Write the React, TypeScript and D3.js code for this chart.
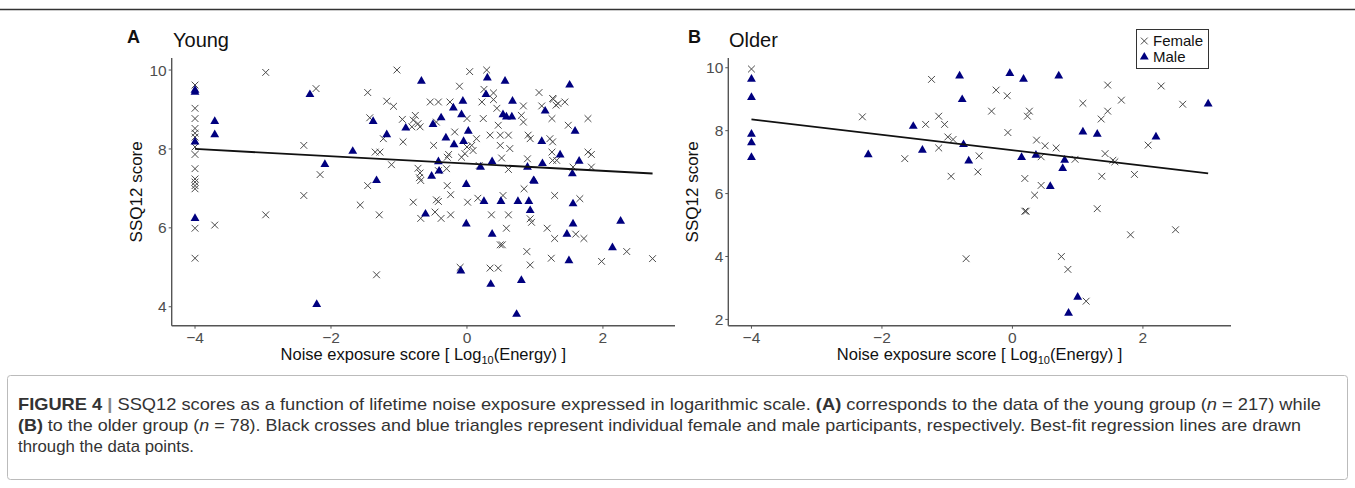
import React from "react";
import * as d3 from "d3";

// ---------- DATA ----------
// Panel A (Young) — [noise exposure score, SSQ12 score]
const youngFemale: [number, number][] = [
  [-4, 9.62], [-4, 9.03], [-4, 8.77], [-4, 8.52], [-4, 8.4], [-4, 8.3], [-4, 8.05], [-4, 7.86], [-4, 7.5],
  [-4, 7.24], [-4, 7.16], [-4, 7.07], [-4, 6.99], [-4, 5.99], [-4, 5.23],
  [-3.71, 6.07], [-2.96, 9.94], [-2.96, 6.33], [-2.22, 9.53], [-2.4, 8.09], [-2.16, 7.35], [-2.4, 6.82],
  [-1.03, 10.0], [-1.46, 9.43], [-1.18, 9.21], [-1.08, 9.08], [-1.43, 8.79], [-1.23, 8.26], [-1.35, 7.92],
  [-1.28, 7.92], [-1.11, 7.6], [-0.95, 8.75], [-0.94, 8.18], [-0.76, 8.85], [-0.79, 8.73], [-0.81, 8.56],
  [-0.69, 8.56], [-0.72, 8.64], [-0.54, 9.19], [-0.42, 9.19], [-0.25, 9.19], [-0.45, 8.68], [0, 8.77],
  [-0.11, 9.59], [0.04, 9.96], [0.29, 10.0], [0.25, 9.51], [0.39, 9.42], [0.39, 9.25], [0.24, 8.77],
  [0.22, 9.19], [0.44, 9.03], [0.8, 8.85], [0.83, 8.68], [0.83, 9.09], [1.06, 9.43], [1.1, 9.09],
  [1.26, 9.28], [1.31, 9.11], [1.25, 8.77], [-0.18, 8.43], [-0.49, 8.09], [0, 8.05], [0.07, 8.09],
  [0.14, 8.26], [0.09, 7.96], [-0.03, 7.88], [-0.08, 7.79], [0.34, 8.35], [0.46, 8.6], [0.49, 8.35],
  [0.61, 8.35], [0.49, 8.09], [0.63, 8.01], [0.9, 8.35], [0.93, 8.26], [1.22, 8.26], [1.26, 8.18],
  [-0.29, 7.79], [-0.27, 7.86], [-0.42, 7.45], [-0.72, 7.51], [-0.69, 7.39], [-0.3, 7.5], [0.18, 7.58],
  [0.51, 7.77], [0.61, 7.48], [0.89, 7.75], [1.25, 7.92], [1.26, 7.71],
  [-1.46, 7.07], [-1.57, 6.58], [-1.29, 6.33], [-1.33, 4.81], [-0.79, 6.65], [-0.7, 7.27], [-0.68, 7.2],
  [-0.45, 6.71], [-0.42, 6.67], [-0.29, 7.07], [-0.24, 6.84], [-0.68, 6.24], [-0.47, 6.4], [-0.38, 6.24],
  [-0.24, 6.33], [0.01, 6.65], [0.16, 6.75], [0.53, 6.82], [0.84, 6.99], [0.93, 6.23], [0.95, 6.14],
  [1.29, 6.82], [0.36, 6.33], [0.61, 6.33], [0.58, 5.99], [0.49, 5.57], [0.52, 5.57], [0.88, 5.4],
  [0.93, 5.06], [1.18, 5.99], [1.29, 5.73], [1.24, 5.23], [-0.1, 5.0], [0.34, 4.98], [0.46, 4.98],
  [1.27, 9.26], [1.34, 9.15], [1.44, 9.19], [1.49, 8.6], [1.78, 8.77], [1.32, 7.71], [1.78, 7.92],
  [1.83, 7.86], [1.83, 7.54], [1.56, 7.54], [1.66, 6.74], [1.6, 5.84], [1.72, 5.73], [1.98, 5.15],
  [2.35, 5.4], [2.73, 5.22],
];
const youngMale: [number, number][] = [
  [-4, 9.49], [-4, 9.44], [-4, 8.18], [-4, 6.24],
  [-3.71, 8.7], [-3.71, 8.36], [-2.31, 9.38], [-2.09, 7.61], [-2.21, 4.06], [-1.68, 7.94], [-0.67, 9.72],
  [-1.38, 8.7], [-1.18, 8.36], [-0.9, 8.53], [-0.2, 9.04], [-0.06, 9.21], [-0.38, 8.79], [-0.5, 8.62],
  [-0.08, 8.87], [0.3, 9.8], [0.56, 9.72], [0.28, 9.38], [0.67, 9.21], [0.53, 8.87], [0.58, 8.81],
  [0.66, 8.81], [1.15, 8.96], [0.02, 8.45], [-0.31, 8.28], [-0.19, 8.11], [-0.05, 8.19], [1.1, 8.19],
  [-0.42, 7.68], [-0.41, 7.44], [-0.52, 7.31], [0.2, 7.54], [0.37, 7.68], [0.89, 7.54], [1.11, 7.63],
  [1.37, 7.85], [-1.33, 7.2], [0.98, 7.2], [-0.61, 6.35], [-0.01, 7.1], [0.25, 6.67], [0.5, 6.67],
  [0.75, 6.67], [0.91, 6.67], [0.99, 7.18], [0.93, 6.44], [-0.01, 6.1], [0.37, 5.84], [-0.09, 4.91],
  [0.35, 4.57], [0.8, 4.67], [0.73, 3.81], [1.51, 9.62], [1.59, 8.45], [1.65, 7.69], [1.55, 7.37],
  [1.56, 6.61], [1.56, 6.1], [2.26, 6.17], [1.47, 5.84], [1.5, 5.17], [2.14, 5.5],
];
// Panel B (Older)
const olderFemale: [number, number][] = [
  [-4, 9.96], [-2.3, 8.44], [-1.65, 7.11], [-1.24, 9.63], [-0.25, 9.29], [-0.08, 9.11], [-0.32, 8.62],
  [0.26, 8.62], [0.23, 8.46], [1.46, 9.45], [1.67, 8.97], [1.08, 8.87], [1.46, 8.62], [1.36, 8.37],
  [-1.33, 8.2], [-1.13, 8.46], [-1.04, 8.2], [-0.99, 7.8], [-0.91, 7.72], [-1.13, 7.45], [-0.51, 7.2],
  [-0.94, 6.55], [-0.53, 6.69], [-0.07, 7.94], [0.37, 7.7], [0.5, 7.52], [0.67, 7.45], [0.44, 7.17],
  [0.96, 7.09], [1.42, 7.27], [1.54, 7.06], [1.57, 7.01], [1.87, 6.61], [2.08, 7.54], [0.19, 6.48],
  [1.37, 6.55], [0.44, 6.26], [0.34, 5.95], [0.19, 5.44], [0.21, 5.44], [1.3, 5.52], [1.81, 4.69],
  [-0.71, 3.93], [0.75, 4.0], [0.85, 3.59], [1.13, 2.58], [2.28, 9.42], [2.61, 8.84], [2.5, 4.85],
];
const olderMale: [number, number][] = [
  [-4, 9.64], [-4, 9.06], [-4, 7.89], [-4, 7.62], [-4, 7.15], [-2.21, 7.24], [-0.81, 9.74], [-0.77, 8.99],
  [-0.04, 9.82], [0.17, 9.64], [0.71, 9.74], [-1.52, 8.14], [-1.38, 7.38], [-0.75, 7.56], [-0.67, 7.04],
  [0.14, 7.15], [0.36, 7.22], [0.8, 7.06], [0.77, 6.8], [1.08, 7.96], [1.3, 7.89], [0.58, 6.23],
  [1.0, 2.71], [0.86, 2.2], [2.2, 7.8], [3.0, 8.85],
];
// Regression lines: [intercept, slope]
const fitYoung: [number, number] = [7.63, -0.0923];
const fitOlder: [number, number] = [7.377, -0.246];

const xTicks = [-4, -2, 0, 2];
const yTicksA = [4, 6, 8, 10];
const yTicksB = [2, 4, 6, 8, 10];
const legendLabels = ["Female", "Male"];

const captionLines = [
  [
    { t: "FIGURE 4 ", b: true },
    { t: "| ", b: true, c: "#888" },
    { t: "SSQ12 scores as a function of lifetime noise exposure expressed in logarithmic scale. " },
    { t: "(A)", b: true },
    { t: " corresponds to the data of the young group (" },
    { t: "n", i: true },
    { t: " = 217) while" },
  ],
  [
    { t: "(B)", b: true },
    { t: " to the older group (" },
    { t: "n", i: true },
    { t: " = 78). Black crosses and blue triangles represent individual female and male participants, respectively. Best-fit regression lines are drawn" },
  ],
  [{ t: "through the data points." }],
];
const captionWidths = [1303, 1283, 176];

// ---------- STYLE ----------
const FONT = "'Liberation Sans', Arial, Helvetica, sans-serif";
const CAPFONT = "'Liberation Sans Narrow', 'Liberation Sans', Arial, sans-serif";
const CROSS = "#4a4a4a";
const TRI = "#00007f";
const AXIS = "#555";
const TICKTXT = "#4d4d4d";

type PanelProps = {
  x0: number; x1: number; y0: number; y1: number;
  xDom: [number, number]; yDom: [number, number];
  female: [number, number][]; male: [number, number][];
  fit: [number, number]; yTicks: number[];
  letter: string; title: string; letterX: number; titleX: number;
  yTitleX: number;
};

const triPath = d3.symbol(d3.symbolTriangle).size(34)() as string;
const crossPath = "M-3.4,-3.4L3.4,3.4M-3.4,3.4L3.4,-3.4";

function Panel(p: PanelProps) {
  const x = d3.scaleLinear().domain(p.xDom).range([p.x0, p.x1]);
  const y = d3.scaleLinear().domain(p.yDom).range([p.y1, p.y0]);
  const all = [...p.female, ...p.male];
  const xmin = d3.min(all, (d) => d[0]) as number;
  const xmax = d3.max(all, (d) => d[0]) as number;
  const line = d3.line<number>().x((v) => x(v)).y((v) => y(p.fit[0] + p.fit[1] * v));
  const xc = (p.x0 + p.x1) / 2;
  const yc = (p.y0 + p.y1) / 2;
  return (
    <g>
      <text x={p.letterX} y={43} fontFamily={FONT} fontWeight="bold" fontSize={18} fill="#111">{p.letter}</text>
      <text x={p.titleX} y={47} fontFamily={FONT} fontSize={20} fill="#111">{p.title}</text>
      {/* axes */}
      <line x1={p.x0} x2={p.x0} y1={p.y0} y2={p.y1} stroke={AXIS} strokeWidth={1.4} />
      <line x1={p.x0} x2={p.x1} y1={p.y1} y2={p.y1} stroke={AXIS} strokeWidth={1.4} />
      {p.yTicks.map((t) => (
        <g key={"y" + t}>
          <line x1={p.x0 - 3} x2={p.x0} y1={y(t)} y2={y(t)} stroke={AXIS} strokeWidth={1} />
          <text x={p.x0 - 5} y={y(t)} dy="0.36em" textAnchor="end" fontFamily={FONT} fontSize={15.5} fill={TICKTXT}>{t}</text>
        </g>
      ))}
      {xTicks.map((t) => (
        <g key={"x" + t}>
          <line x1={x(t)} x2={x(t)} y1={p.y1} y2={p.y1 + 3} stroke={AXIS} strokeWidth={1} />
          <text x={x(t)} y={p.y1 + 17.5} textAnchor="middle" fontFamily={FONT} fontSize={15.5} fill={TICKTXT}>{t === 0 ? "0" : t < 0 ? "\u2212" + Math.abs(t) : String(t)}</text>
        </g>
      ))}
      <text transform={`translate(${p.yTitleX},${yc}) rotate(-90)`} textAnchor="middle" fontFamily={FONT} fontSize={17} fill="#111">SSQ12 score</text>
      <text x={xc} y={360} textAnchor="middle" fontFamily={FONT} fontSize={16.5} fill="#111">
        Noise exposure score [ Log<tspan fontSize={11} dy={4}>10</tspan><tspan dy={-4}>(Energy) ]</tspan>
      </text>
      {/* points */}
      {p.female.map((d, i) => (
        <path key={"f" + i} d={crossPath} transform={`translate(${x(d[0])},${y(d[1])})`} stroke={CROSS} strokeWidth={1} fill="none" />
      ))}
      {p.male.map((d, i) => (
        <path key={"m" + i} d={triPath} transform={`translate(${x(d[0])},${y(d[1])})`} fill={TRI} />
      ))}
      <path d={line([xmin, xmax]) as string} stroke="#111" strokeWidth={1.8} fill="none" />
    </g>
  );
}

export default function App() {
  return (
    <div style={{ position: "absolute", left: 0, top: 0 }}>
      <svg width={1355} height={488} style={{ display: "block", background: "#fff" }}>
        <rect x={0} y={0} width={1355} height={488} fill="#fff" />
        <line x1={0} x2={1355} y1={9.5} y2={9.5} stroke="#333" strokeWidth={1.5} />
        <rect x={7.5} y={375.5} width={1340} height={104} rx={3} fill="none" stroke="#bbb" strokeWidth={1} />
        <Panel x0={171.7} x1={675} y0={58} y1={325.7} xDom={[-4.343, 3.06]} yDom={[3.52, 10.305]}
          female={youngFemale} male={youngMale} fit={fitYoung} yTicks={yTicksA}
          letter="A" title="Young" letterX={127} titleX={173} yTitleX={142} />
        <Panel x0={728.3} x1={1231} y0={58} y1={325.7} xDom={[-4.355, 3.35]} yDom={[1.8, 10.31]}
          female={olderFemale} male={olderMale} fit={fitOlder} yTicks={yTicksB}
          letter="B" title="Older" letterX={688} titleX={729} yTitleX={698} />
        {/* legend */}
        <rect x={1136.5} y={29.5} width={72} height={39} fill="#fff" stroke="#333" strokeWidth={1} />
        <path d={crossPath} transform="translate(1144.3,41)" stroke={CROSS} strokeWidth={1} fill="none" />
        <path d={triPath} transform="translate(1144.3,57)" fill={TRI} />
        {legendLabels.map((l, i) => (
          <text key={l} x={1153} y={46 + i * 16} fontFamily={FONT} fontSize={15} fill="#111">{l}</text>
        ))}
        {/* caption */}
        {captionLines.map((ln, i) => (
          <text key={i} x={18} y={410 + i * 21} fontFamily={CAPFONT} fontSize={17} fill="#333"
            textLength={captionWidths[i]} lengthAdjust="spacingAndGlyphs">
            {ln.map((s: any, j: number) => (
              <tspan key={j} fontWeight={s.b ? "bold" : "normal"} fontStyle={s.i ? "italic" : "normal"} fill={s.c || "#333"}>{s.t}</tspan>
            ))}
          </text>
        ))}
      </svg>
    </div>
  );
}
